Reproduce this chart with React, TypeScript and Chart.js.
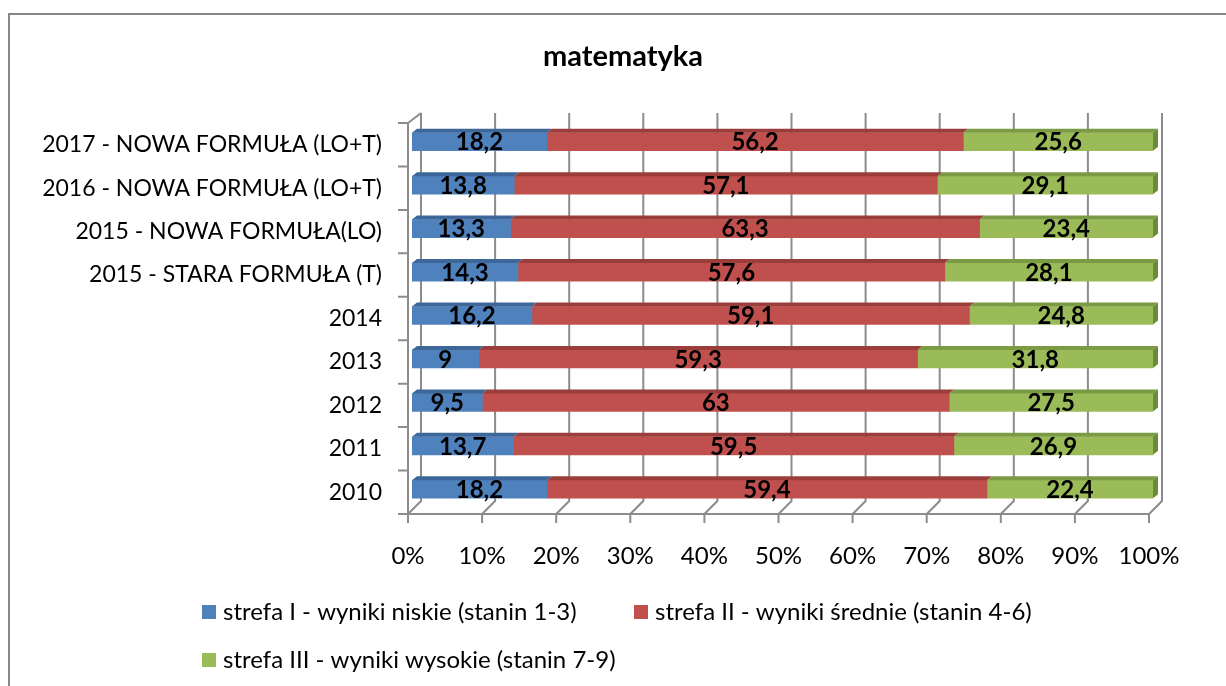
import React, { useEffect, useRef } from "react";
import { Chart, registerables } from "chart.js";

Chart.register(...registerables);

const chartTitle = "matematyka";
const categories = [
  "2017 - NOWA FORMUŁA (LO+T)",
  "2016 - NOWA FORMUŁA (LO+T)",
  "2015 - NOWA FORMUŁA(LO)",
  "2015 - STARA FORMUŁA (T)",
  "2014",
  "2013",
  "2012",
  "2011",
  "2010",
];
const seriesNames = [
  "strefa I - wyniki niskie (stanin 1-3)",
  "strefa II - wyniki średnie (stanin 4-6)",
  "strefa III - wyniki wysokie (stanin 7-9)",
];
const strefaI = [18.2, 13.8, 13.3, 14.3, 16.2, 9, 9.5, 13.7, 18.2];
const strefaII = [56.2, 57.1, 63.3, 57.6, 59.1, 59.3, 63, 59.5, 59.4];
const strefaIII = [25.6, 29.1, 23.4, 28.1, 24.8, 31.8, 27.5, 26.9, 22.4];
const xTickValues = [0, 10, 20, 30, 40, 50, 60, 70, 80, 90, 100];

const FONT = "Lato, 'Open Sans', sans-serif";
const colors = ["#4F81BD", "#C0504D", "#9BBB59"];
const topColors = ["#3D6699", "#9B3E3B", "#7A9A44"];
const sideColors = ["#36598A", "#8A3532", "#6B8A3A"];
const GRID = "#8C8C8C";

const rawSeries = [strefaI, strefaII, strefaIII];
const totals = categories.map((_, i) => strefaI[i] + strefaII[i] + strefaIII[i]);
const pctSeries = rawSeries.map((s) => s.map((v, i) => (v / totals[i]) * 100));

const fmt = (v: number) => String(v).replace(".", ",");

const decorPlugin = {
  id: "decor",
  beforeDraw(chart: any) {
    const ctx = chart.ctx;
    ctx.save();
    ctx.fillStyle = "#fff";
    ctx.fillRect(0, 0, chart.width, chart.height);
    ctx.strokeStyle = "#878787";
    ctx.lineWidth = 2;
    ctx.strokeRect(9, 14, 1400, 900);
    // title
    ctx.fillStyle = "#000";
    ctx.font = `bold 29px ${FONT}`;
    ctx.textAlign = "center";
    ctx.textBaseline = "middle";
    ctx.fillText(chartTitle, 623, 57);
    // legend
    ctx.font = `24px ${FONT}`;
    ctx.textAlign = "left";
    const legendPos = [
      [202, 612],
      [634, 612],
      [202, 660],
    ];
    seriesNames.forEach((name, i) => {
      const [x, y] = legendPos[i];
      ctx.fillStyle = colors[i];
      ctx.fillRect(x, y - 7, 14, 14);
      ctx.fillStyle = "#000";
      ctx.fillText(name, x + 21, y);
    });
    ctx.restore();
  },
  beforeDatasetsDraw(chart: any) {
    const ctx = chart.ctx;
    const xs = chart.scales.x;
    const backTop = 113;
    const backBot = 501;
    const frontTop = 123;
    const frontBot = 514;
    const fdx = -4;
    const bdx = 9;
    ctx.save();
    ctx.strokeStyle = GRID;
    ctx.lineWidth = 2;
    ctx.beginPath();
    xTickValues.forEach((v) => {
      const px = xs.getPixelForValue(v);
      ctx.moveTo(px + bdx, backTop);
      ctx.lineTo(px + bdx, backBot);
      ctx.lineTo(px + fdx, frontBot);
      ctx.moveTo(px + fdx, frontBot);
      ctx.lineTo(px + fdx, frontBot + 9);
    });
    const x0 = xs.getPixelForValue(0) + fdx;
    const x1 = xs.getPixelForValue(100) + fdx;
    ctx.moveTo(x0, frontBot);
    ctx.lineTo(x1, frontBot);
    ctx.moveTo(x0, frontTop);
    ctx.lineTo(x0, frontBot);
    ctx.moveTo(x0, frontTop);
    ctx.lineTo(xs.getPixelForValue(0) + bdx, backTop);
    const n = categories.length;
    const slot = (frontBot - frontTop) / n;
    for (let k = 0; k <= n; k++) {
      const y = frontTop + k * slot;
      ctx.moveTo(x0 - 10, y);
      ctx.lineTo(x0, y);
    }
    ctx.stroke();
    ctx.restore();
  },
  afterDatasetsDraw(chart: any) {
    const ctx = chart.ctx;
    const dx = 5;
    const dy = 4;
    ctx.save();
    const nds = chart.data.datasets.length;
    for (let d = 0; d < nds; d++) {
      const meta = chart.getDatasetMeta(d);
      meta.data.forEach((bar: any) => {
        const left = Math.min(bar.x, bar.base);
        const right = Math.max(bar.x, bar.base);
        const top = bar.y - bar.height / 2;
        const bottom = bar.y + bar.height / 2;
        ctx.fillStyle = topColors[d];
        ctx.beginPath();
        ctx.moveTo(left, top);
        ctx.lineTo(left + dx, top - dy);
        ctx.lineTo(right + dx, top - dy);
        ctx.lineTo(right, top);
        ctx.closePath();
        ctx.fill();
        if (d === nds - 1) {
          ctx.fillStyle = sideColors[d];
          ctx.beginPath();
          ctx.moveTo(right, top);
          ctx.lineTo(right + dx, top - dy);
          ctx.lineTo(right + dx, bottom - dy);
          ctx.lineTo(right, bottom);
          ctx.closePath();
          ctx.fill();
        }
      });
    }
    ctx.fillStyle = "#000";
    ctx.font = `bold 24px ${FONT}`;
    ctx.textAlign = "center";
    ctx.textBaseline = "middle";
    for (let d = 0; d < nds; d++) {
      const meta = chart.getDatasetMeta(d);
      meta.data.forEach((bar: any, i: number) => {
        const cx = (bar.x + bar.base) / 2;
        ctx.fillText(fmt(rawSeries[d][i]), cx, bar.y + 1);
      });
    }
    ctx.restore();
  },
};

export default function App() {
  const ref = useRef<HTMLCanvasElement | null>(null);
  useEffect(() => {
    if (!ref.current) return;
    Chart.defaults.font.family = FONT;
    const chart = new Chart(ref.current, {
      type: "bar",
      data: {
        labels: categories,
        datasets: pctSeries.map((s, i) => ({
          label: seriesNames[i],
          data: s,
          backgroundColor: colors[i],
          borderWidth: 0,
          barThickness: 18,
        })),
      },
      options: {
        indexAxis: "y",
        animation: false,
        responsive: false,
        events: [],
        layout: { padding: { top: 120, left: 0, right: 73, bottom: 115 } },
        plugins: {
          legend: { display: false },
          title: { display: false },
          tooltip: { enabled: false },
        },
        scales: {
          x: {
            stacked: true,
            min: 0,
            max: 100,
            afterFit: (scale: any) => {
              scale.height = 60;
            },
            afterBuildTicks: (scale: any) => {
              scale.ticks = xTickValues.map((v) => ({ value: v }));
            },
            grid: { display: false },
            border: { display: false },
            ticks: {
              color: "#000",
              font: { size: 24, family: FONT },
              padding: 23,
              labelOffset: -4,
              maxRotation: 0,
              callback: (v: any) => `${v}%`,
            },
          },
          y: {
            stacked: true,
            afterFit: (scale: any) => {
              scale.width = 412;
            },
            grid: { display: false },
            border: { display: false },
            ticks: {
              color: "#000",
              font: { size: 23, family: FONT },
              padding: 22,
              labelOffset: 3,
              autoSkip: false,
            },
          },
        },
      },
      plugins: [decorPlugin],
    } as any);
    return () => chart.destroy();
  }, []);
  return (
    <div style={{ position: "absolute", left: 0, top: 0, width: 1226, height: 686, overflow: "hidden" }}>
      <canvas ref={ref} width={1226} height={686} style={{ display: "block" }} />
    </div>
  );
}
